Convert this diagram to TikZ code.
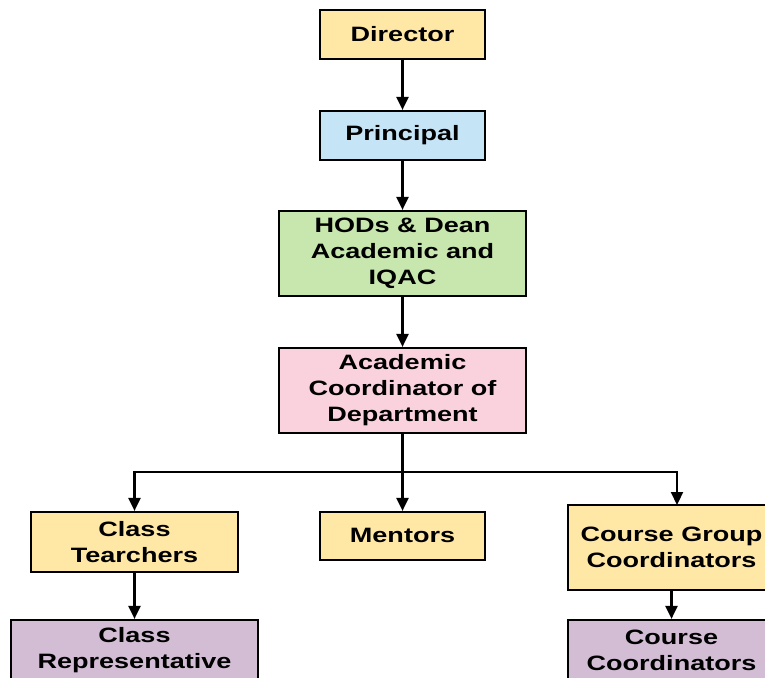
\documentclass[tikz,border=0pt]{standalone}
\usepackage{fontspec}
\setmainfont{Liberation Sans}[FakeStretch=1.3]
\usetikzlibrary{arrows.meta}
\definecolor{cyel}{HTML}{FFE8A6}
\definecolor{cblu}{HTML}{C5E4F6}
\definecolor{cgrn}{HTML}{C8E7AF}
\definecolor{cpnk}{HTML}{F9D2DD}
\definecolor{cpur}{HTML}{D3BDD5}
\tikzset{
  box/.style={draw=black, line width=2.2pt, inner sep=0pt, align=center,
    font=\bfseries\fontsize{20.8}{26}\selectfont},
  arr/.style={draw=black, line width=2.2pt, -{Triangle[length=13pt,width=12pt]}},
  ln/.style={draw=black, line width=2.2pt}
}
\begin{document}
\begin{tikzpicture}[x=1pt,y=-1pt]
\clip (0,0) rectangle (765,677);
\fill[white] (0,0) rectangle (765,677);
\node[box, fill=cyel, minimum width=165, minimum height=49] (dir) at (402.5,34.5) {\raisebox{2pt}{Director}};
\node[box, fill=cblu, minimum width=165, minimum height=49] (pri) at (402.5,135.5) {\raisebox{2pt}{Principal}};
\node[box, fill=cgrn, minimum width=247, minimum height=85] (hod) at (402.5,253.5) {HODs \& Dean\\Academic and\\IQAC};
\node[box, fill=cpnk, minimum width=247, minimum height=85] (acd) at (402.5,390.5) {Academic\\Coordinator of\\Department};
\node[box, fill=cyel, minimum width=207, minimum height=60] (ct) at (134.5,542) {Class\\Tearchers};
\node[box, fill=cyel, minimum width=165, minimum height=48] (men) at (402.5,536) {\raisebox{2pt}{Mentors}};
\node[box, fill=cyel, minimum width=207, minimum height=85] (cg) at (671.5,547.5) {Course Group\\Coordinators};
\node[box, fill=cpur, minimum width=247, minimum height=60] (cr) at (134.5,650) {Class\\Representative};
\node[box, fill=cpur, minimum width=207, minimum height=60] (cc) at (671.5,650) {Course\\Coordinators};
\coordinate (bj) at (402.5,472);
\coordinate (cgin) at (677,505);
\draw[arr] (dir) -- (pri);
\draw[arr] (pri) -- (hod);
\draw[arr] (hod) -- (acd);
\draw[ln] (acd.south) -- (bj);
\draw[arr] (bj) -| (ct.north);
\draw[arr] (bj) -- (men.north);
\draw[arr] (bj) -| (cgin);
\draw[arr] (ct) -- (cr);
\draw[arr] (cg) -- (cc);
\end{tikzpicture}
\end{document}
